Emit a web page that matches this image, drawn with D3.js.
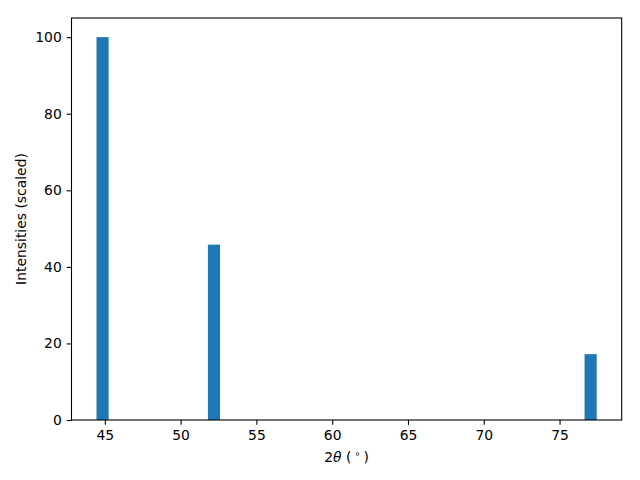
<!DOCTYPE html>
<html><head><meta charset="utf-8">
<script src="https://cdn.jsdelivr.net/npm/d3@7"></script>
<style>body{margin:0;background:#fff}text{font-family:"DejaVu Sans",sans-serif}</style>
</head><body><svg id="c" width="640" height="480"></svg>
<script>
const peaks = [44.85, 52.2, 77.05];
const intensities = [100, 45.8, 17.2];
const xTicks = [45, 50, 55, 60, 65, 70, 75];
const yTicks = [0, 20, 40, 60, 80, 100];
const barWidth = 0.8;

const svg = d3.select("#c");
const L = 71.5, R = 621.7, T = 18, B = 420;
const lo = d3.min(peaks) - barWidth/2, hi = d3.max(peaks) + barWidth/2;
const m = (hi - lo) * 0.05;
const x = d3.scaleLinear().domain([lo - m, hi + m]).range([L, R]);
const y = d3.scaleLinear().domain([0, d3.max(intensities) * 1.05]).range([B, T]);

svg.append("g").selectAll("rect").data(peaks).join("rect")
  .attr("x", d => x(d - barWidth/2))
  .attr("width", d => x(d + barWidth/2) - x(d - barWidth/2))
  .attr("y", (d, i) => y(intensities[i]))
  .attr("height", (d, i) => y(0) - y(intensities[i]))
  .attr("fill", "#1f77b4");

const xa = svg.append("g").attr("transform", `translate(0,${B})`)
  .call(d3.axisBottom(x).tickValues(xTicks).tickSize(4.86).tickPadding(4.9).tickFormat(d3.format("d")));
const ya = svg.append("g").attr("transform", `translate(${L},0)`)
  .call(d3.axisLeft(y).tickValues(yTicks).tickSize(4.86).tickPadding(4.9).tickFormat(d3.format("d")));
[xa, ya].forEach(a => {
  a.select(".domain").remove();
  a.selectAll("text").attr("font-size", 13.9).attr("fill", "#000").style("font-family", "DejaVu Sans");
  a.selectAll("line").attr("stroke", "#000").attr("stroke-width", 1.1);
});

svg.append("rect").attr("x", L).attr("y", T).attr("width", R - L).attr("height", B - T)
  .attr("fill", "none").attr("stroke", "#000").attr("stroke-width", 1.1);

const xl = svg.append("text").attr("x", (L + R) / 2).attr("y", 462).attr("text-anchor", "middle")
  .attr("font-size", 13.9);
xl.append("tspan").text("2");
xl.append("tspan").attr("font-style", "italic").text("θ");
xl.append("tspan").text(" (");
xl.append("tspan").attr("font-size", 9.7).attr("dx", 3).attr("dy", -5).text("∘");
xl.append("tspan").attr("dx", 3).attr("dy", 5).text(")");

svg.append("text").attr("transform", `translate(26,${(T + B) / 2}) rotate(-90)`)
  .attr("text-anchor", "middle").attr("font-size", 13.9).text("Intensities (scaled)");
</script></body></html>
